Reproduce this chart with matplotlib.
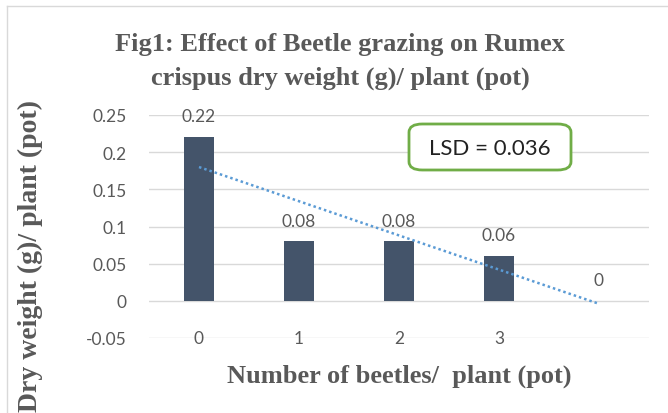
import matplotlib.pyplot as plt
from matplotlib.patches import FancyBboxPatch
import numpy as np

categories = ["0", "1", "2", "3", ""]
dry_weight = [0.22, 0.08, 0.08, 0.06, 0]
value_labels = ["0.22", "0.08", "0.08", "0.06", "0"]
y_ticks = [-0.05, 0, 0.05, 0.1, 0.15, 0.2, 0.25]
y_tick_labels = ["-0.05", "0", "0.05", "0.1", "0.15", "0.2", "0.25"]

gray = "#595959"
bar_color = "#44546A"
sans = ["Lato", "DejaVu Sans"]
serif = ["Liberation Serif", "DejaVu Serif"]

fig = plt.figure(figsize=(6.68, 4.14), dpi=100)
ax = fig.add_axes([149 / 668, 75 / 414, 500 / 668, 223 / 414])

x = np.arange(len(categories))
ax.bar(x, dry_weight, width=0.3, color=bar_color, zorder=3)

# linear trendline (Excel style)
slope, intercept = np.polyfit(x, dry_weight, 1)
ax.plot(x, slope * x + intercept, color="#5B9BD5", linestyle=(0, (1, 1.2)),
        linewidth=1.8, zorder=4)

for xi, v, lab in zip(x, dry_weight, value_labels):
    ax.annotate(lab, (xi, v), xytext=(0, 15), textcoords="offset points",
                ha="center", va="center", fontsize=12.5, color=gray, family=sans)

ax.set_xlim(-0.5, len(categories) - 0.5)
ax.set_ylim(-0.05, 0.25)
ax.set_yticks(y_ticks)
ax.set_yticklabels(y_tick_labels, fontsize=12.5, color=gray, family=sans)
ax.tick_params(axis="y", length=0, pad=16)
ax.set_xticks([])
for xi, lab in zip(x, categories):
    ax.text(xi, -0.05, lab, ha="center", va="center", fontsize=12.5,
            color=gray, family=sans, zorder=5)

ax.grid(axis="y", color="#D9D9D9", linewidth=1, zorder=0)
for s in ax.spines.values():
    s.set_visible(False)

fig.text(340 / 668, 1 - 45 / 414, "Fig1: Effect of Beetle grazing on Rumex",
         ha="center", va="center", fontsize=19, fontweight="bold",
         color=gray, family=serif)
fig.text(340 / 668, 1 - 78 / 414, "crispus dry weight (g)/ plant (pot)",
         ha="center", va="center", fontsize=19, fontweight="bold",
         color=gray, family=serif)
fig.text(399 / 668, 1 - 376 / 414, "Number of beetles/  plant (pot)",
         ha="center", va="center", fontsize=19, fontweight="bold",
         color=gray, family=serif)
fig.text(30 / 668, 1 - 256 / 414, "Dry weight (g)/ plant (pot)",
         ha="center", va="center", rotation=90, fontsize=20,
         fontweight="bold", color=gray, family=serif)

# LSD box
box = FancyBboxPatch((409 / 668, 1 - 171 / 414), 162 / 668, 46 / 414,
                     boxstyle="round,pad=0,rounding_size=0.02",
                     transform=fig.transFigure, facecolor="white",
                     edgecolor="#70AD47", linewidth=2, zorder=10)
fig.patches.append(box)
fig.text(490 / 668, 1 - 149 / 414, "LSD = 0.036", ha="center", va="center",
         fontsize=16, color="#222222", family=sans, zorder=11)

# chart frame (left and top edges visible)
fig.add_artist(plt.Line2D([7 / 668, 7 / 668], [0, 1 - 7 / 414],
                          transform=fig.transFigure, color="#D9D9D9", lw=1))
fig.add_artist(plt.Line2D([7 / 668, 1], [1 - 7 / 414, 1 - 7 / 414],
                          transform=fig.transFigure, color="#D9D9D9", lw=1))

fig.savefig("out.png", dpi=100)
